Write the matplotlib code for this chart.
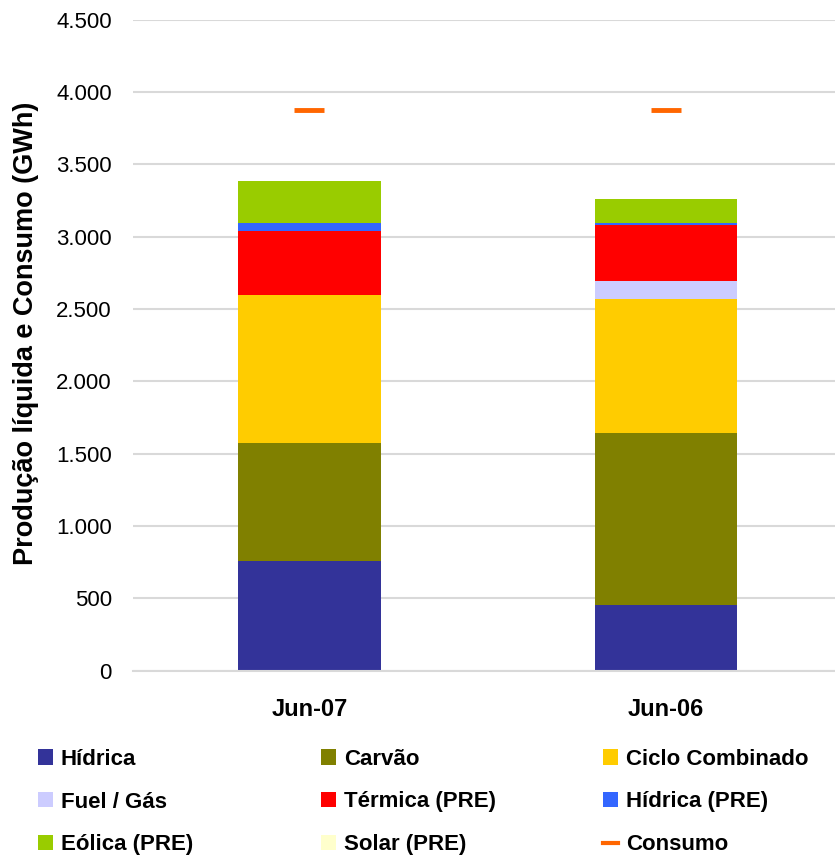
import matplotlib.pyplot as plt
from matplotlib.patches import Patch
from matplotlib.lines import Line2D

plt.rcParams['font.family'] = ['Liberation Sans', 'DejaVu Sans']

# Data (GWh)
periods = ["Jun-07", "Jun-06"]
hidrica = [757, 455]
carvao = [816, 1187]
ciclo = [1024, 927]
fuel_gas = [0, 125]
termica_pre = [442, 387]
hidrica_pre = [56, 14]
eolica_pre = [290, 166]
solar_pre = [0, 0]
consumo = [3878, 3878]

series = [
    ("Hídrica", hidrica, "#333399"),
    ("Carvão", carvao, "#808000"),
    ("Ciclo Combinado", ciclo, "#FFCC00"),
    ("Fuel / Gás", fuel_gas, "#CCCCFF"),
    ("Térmica (PRE)", termica_pre, "#FF0000"),
    ("Hídrica (PRE)", hidrica_pre, "#3366FF"),
    ("Eólica (PRE)", eolica_pre, "#99CC00"),
    ("Solar (PRE)", solar_pre, "#FFFFCC"),
]
consumo_color = "#FF6600"

fig = plt.figure(figsize=(8.35, 8.57), dpi=100)
ax = fig.add_axes([0.159, 0.2176, 0.841, 0.7593])

x = list(range(len(periods)))
bottom = [0, 0]
for name, vals, col in series:
    ax.bar(x, vals, width=0.4, bottom=bottom, color=col, label=name, zorder=2)
    bottom = [b + v for b, v in zip(bottom, vals)]

ax.plot(x, consumo, linestyle="none", marker="_", markersize=22,
        markeredgewidth=3.5, color=consumo_color, zorder=3)

ax.set_ylim(0, 4500)
ax.set_xlim(-0.495, 1.474)
ax.set_yticks(range(0, 4501, 500))
ax.set_yticklabels([f"{v:,}".replace(",", ".") for v in range(0, 4501, 500)],
                   fontsize=16)
ax.set_xticks(x)
ax.set_xticklabels(periods, fontsize=17, fontweight="bold")
ax.tick_params(axis="y", length=0, pad=15)
ax.tick_params(axis="x", length=0, pad=19.5)
ax.yaxis.grid(True, color="#D9D9D9", linewidth=1.5, zorder=0)
ax.set_axisbelow(True)
for s in ["top", "right", "left"]:
    ax.spines[s].set_visible(False)
ax.spines["bottom"].set_color("#D9D9D9")
ax.spines["bottom"].set_linewidth(1.5)

ax.set_ylabel("Produção líquida e Consumo (GWh)", fontsize=19.5,
              fontweight="bold")
ax.yaxis.set_label_coords(-0.1335, 0.518)

# Legend: three columns placed separately
handles = {name: Patch(facecolor=col, edgecolor="none") for name, _, col in series}
handles["Consumo"] = Line2D([0], [0], color=consumo_color, linewidth=3)
columns = [
    ["Hídrica", "Fuel / Gás", "Eólica (PRE)"],
    ["Carvão", "Térmica (PRE)", "Solar (PRE)"],
    ["Ciclo Combinado", "Hídrica (PRE)", "Consumo"],
]
col_x = [38, 321, 603]
for cx, names in zip(col_x, columns):
    fig.legend([handles[n] for n in names], names, loc="center left",
               bbox_to_anchor=(cx / 835, 1 - 802 / 857), frameon=False,
               prop={"size": 16, "weight": "bold"}, handlelength=0.675,
               handleheight=0.675, handletextpad=0.36, labelspacing=0.98,
               borderpad=0, borderaxespad=0)

fig.savefig("out.png", dpi=100)
